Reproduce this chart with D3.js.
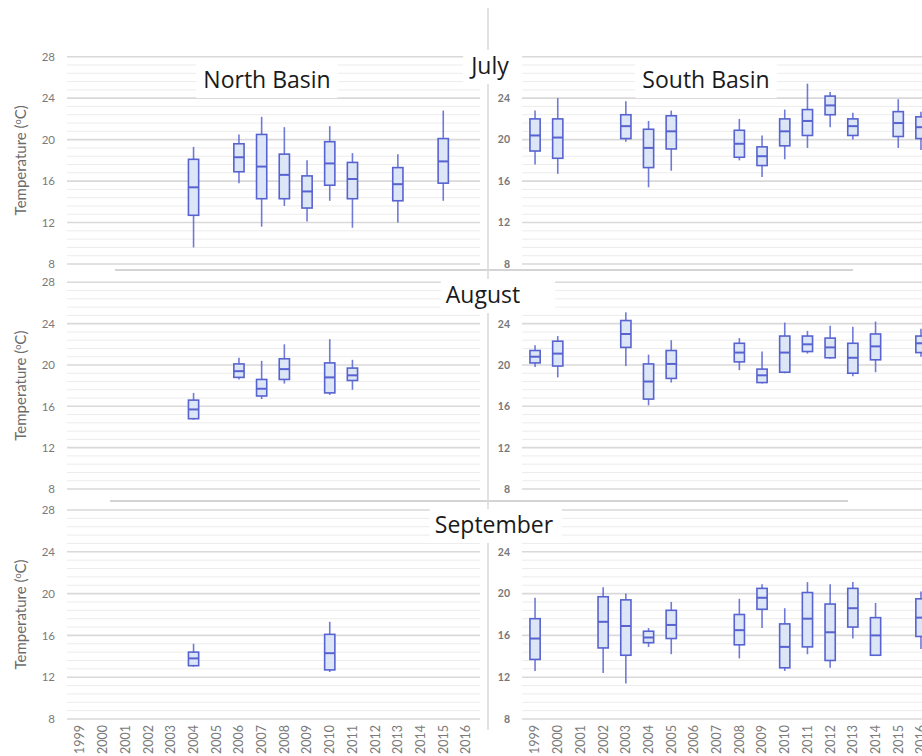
<!DOCTYPE html>
<html>
<head>
<meta charset="utf-8">
<script src="https://cdn.jsdelivr.net/npm/d3@7"></script>
<style>
  body { margin: 0; background: #fff; }
  svg { display: block; }
</style>
</head>
<body>
<div id="chart"></div>
<script>
// categories
const years = ["1999", "2000", "2001", "2002", "2003", "2004", "2005", "2006", "2007",
  "2008", "2009", "2010", "2011", "2012", "2013", "2014", "2015", "2016"];
const months = ["July", "August", "September"];
const basins = ["North Basin", "South Basin"];
const yTicksNorth = [8, 12, 16, 20, 24, 28];
const yTicksSouth = [8, 12, 16, 20, 24];

// box plot values: [year, min, q1, median, q3, max]
const julyNorth = [
  ["2004", 9.6, 12.7, 15.4, 18.1, 19.3],
  ["2006", 15.8, 16.9, 18.3, 19.6, 20.5],
  ["2007", 11.6, 14.3, 17.4, 20.5, 22.2],
  ["2008", 13.6, 14.3, 16.6, 18.6, 21.2],
  ["2009", 12.1, 13.4, 15.0, 16.5, 18.0],
  ["2010", 14.1, 15.6, 17.7, 19.8, 21.3],
  ["2011", 11.5, 14.3, 16.2, 17.8, 18.7],
  ["2013", 12.0, 14.1, 15.7, 17.3, 18.6],
  ["2015", 14.1, 15.8, 17.9, 20.1, 22.8]
];
const julySouth = [
  ["1999", 17.6, 18.9, 20.4, 22.0, 22.8],
  ["2000", 16.7, 18.2, 20.2, 22.0, 24.0],
  ["2003", 19.8, 20.1, 21.3, 22.4, 23.7],
  ["2004", 15.4, 17.3, 19.2, 21.0, 21.8],
  ["2005", 17.0, 19.1, 20.8, 22.3, 22.8],
  ["2008", 18.0, 18.3, 19.6, 20.9, 22.0],
  ["2009", 16.4, 17.5, 18.4, 19.3, 20.4],
  ["2010", 18.1, 19.4, 20.8, 22.0, 22.9],
  ["2011", 19.2, 20.4, 21.8, 22.9, 25.4],
  ["2012", 21.2, 22.4, 23.3, 24.2, 24.6],
  ["2013", 20.0, 20.4, 21.3, 22.0, 22.6],
  ["2015", 19.2, 20.3, 21.6, 22.7, 23.9],
  ["2016", 19.0, 20.1, 21.2, 22.2, 22.7]
];
const augNorth = [
  ["2004", 14.7, 14.8, 15.7, 16.6, 17.3],
  ["2006", 18.6, 18.8, 19.4, 20.1, 20.7],
  ["2007", 16.7, 17.0, 17.7, 18.6, 20.4],
  ["2008", 18.2, 18.6, 19.6, 20.6, 22.0],
  ["2010", 17.1, 17.3, 18.8, 20.2, 22.5],
  ["2011", 17.6, 18.5, 19.0, 19.7, 20.5]
];
const augSouth = [
  ["1999", 19.8, 20.2, 20.8, 21.4, 21.9],
  ["2000", 18.8, 19.9, 21.1, 22.3, 22.8],
  ["2003", 19.9, 21.7, 23.0, 24.3, 25.1],
  ["2004", 16.1, 16.7, 18.4, 20.1, 21.0],
  ["2005", 18.3, 18.7, 20.1, 21.4, 22.4],
  ["2008", 19.5, 20.3, 21.2, 22.1, 22.6],
  ["2009", 18.2, 18.3, 19.0, 19.6, 21.3],
  ["2010", 19.2, 19.3, 21.2, 22.8, 24.1],
  ["2011", 21.1, 21.3, 22.0, 22.8, 23.3],
  ["2012", 20.6, 20.7, 21.7, 22.6, 23.8],
  ["2013", 18.9, 19.2, 20.7, 22.1, 23.7],
  ["2014", 19.3, 20.5, 21.8, 23.0, 24.2],
  ["2016", 20.8, 21.2, 22.1, 22.8, 23.5]
];
const sepNorth = [
  ["2004", 13.0, 13.1, 13.8, 14.4, 15.2],
  ["2010", 12.5, 12.7, 14.3, 16.1, 17.3]
];
const sepSouth = [
  ["1999", 12.6, 13.7, 15.7, 17.6, 19.6],
  ["2002", 12.4, 14.8, 17.3, 19.7, 20.6],
  ["2003", 11.4, 14.1, 16.9, 19.4, 20.0],
  ["2004", 14.9, 15.3, 15.8, 16.4, 16.7],
  ["2005", 14.2, 15.7, 17.0, 18.4, 19.2],
  ["2008", 13.8, 15.1, 16.5, 18.0, 19.5],
  ["2009", 16.7, 18.5, 19.6, 20.5, 20.9],
  ["2010", 12.6, 12.9, 14.9, 17.1, 18.6],
  ["2011", 14.2, 14.9, 17.6, 20.1, 21.1],
  ["2012", 12.9, 13.6, 16.3, 19.0, 20.9],
  ["2013", 15.7, 16.8, 18.6, 20.5, 21.1],
  ["2014", 14.1, 14.1, 16.0, 17.7, 19.1],
  ["2016", 14.7, 15.9, 17.7, 19.5, 20.2]
];

const panelData = [
  [julyNorth, julySouth],
  [augNorth, augSouth],
  [sepNorth, sepSouth]
];

// layout
const width = 922;
const height = 756;
const rowTop = [56.7, 282.3, 510];
const rowBottom = [264, 489, 719];
const cols = [
  { x0: 68.7, x1: 477.3, g0: 67, g1: 480, tickX: 55 },
  { x0: 523.7, x1: 932.3, g0: 522, g1: 922, tickX: 510 }
];

const strokeCol = "#5763d0";
const fillCol = "#dce6f6";
const textGray = "#6b6b6b";

const svg = d3.select("#chart")
  .append("svg")
  .attr("width", width)
  .attr("height", height);

// gridline levels every 0.8 degrees
const gridLevels = d3.range(26).map(i => 8 + i * 0.8);
const isMajor = d => Math.abs(d % 4) < 1e-6 || Math.abs(d % 4 - 4) < 1e-6;

panelData.forEach((row, r) => {
  row.forEach((data, c) => {
    const cfg = cols[c];
    const g = svg.append("g").attr("class", `panel-${r}-${c}`);

    const x = d3.scaleBand()
      .domain(years)
      .range([cfg.x0, cfg.x1]);

    const y = d3.scaleLinear()
      .domain([8, 28])
      .range([rowBottom[r], rowTop[r]]);

    // gridlines
    g.append("g").selectAll("line")
      .data(gridLevels)
      .join("line")
      .attr("x1", cfg.g0)
      .attr("x2", cfg.g1)
      .attr("y1", d => y(d))
      .attr("y2", d => y(d))
      .attr("stroke", d => isMajor(d) ? "#d9d9d9" : "#ececec")
      .attr("stroke-width", d => isMajor(d) ? 1.6 : 1);

    // y axis labels
    const yAxis = g.append("g")
      .attr("transform", `translate(${cfg.tickX},0)`)
      .call(d3.axisLeft(y).tickValues(c === 0 ? yTicksNorth : yTicksSouth).tickSize(0).tickPadding(0));
    yAxis.select(".domain").remove();
    yAxis.selectAll("text")
      .attr("font-family", "Lato, 'Open Sans', sans-serif")
      .attr("font-size", c === 0 ? 11.5 : 10.5)
      .attr("font-weight", c === 0 ? "normal" : "bold")
      .attr("fill", c === 0 ? "#7a7a7a" : "#777");

    // y axis title on left panels
    if (c === 0) {
      const t = g.append("text")
        .attr("transform", `translate(21,${(rowTop[r] + rowBottom[r]) / 2}) rotate(-90)`)
        .attr("text-anchor", "middle")
        .attr("dy", "0.35em")
        .attr("font-family", "Lato, 'Open Sans', sans-serif")
        .attr("font-size", 15)
        .attr("fill", textGray);
      t.append("tspan").text("Temperature (");
      t.append("tspan").text("o").attr("font-size", 9).attr("baseline-shift", "super");
      t.append("tspan").text("C)");
    }

    // x axis labels on bottom row
    if (r === months.length - 1) {
      g.append("g").selectAll("text")
        .data(years)
        .join("text")
        .attr("transform", d => `translate(${x(d) + x.bandwidth() / 2},725) rotate(-90)`)
        .attr("text-anchor", "end")
        .attr("dy", "0.35em")
        .attr("font-family", "Lato, 'Open Sans', sans-serif")
        .attr("font-size", 12.5)
        .attr("fill", "#7a7a7a")
        .text(d => d);
    }

    // boxes
    const bw = x.bandwidth() * 0.45;
    const boxes = g.append("g").selectAll("g")
      .data(data)
      .join("g")
      .attr("transform", d => `translate(${x(d[0]) + x.bandwidth() / 2},0)`);

    boxes.append("line")
      .attr("y1", d => y(d[1]))
      .attr("y2", d => y(d[5]))
      .attr("stroke", strokeCol)
      .attr("stroke-opacity", 0.85)
      .attr("stroke-width", 1.6);

    boxes.append("rect")
      .attr("x", -bw / 2)
      .attr("width", bw)
      .attr("y", d => y(d[4]))
      .attr("height", d => y(d[2]) - y(d[4]))
      .attr("fill", fillCol)
      .attr("stroke", strokeCol)
      .attr("stroke-width", 1.6);

    boxes.append("line")
      .attr("x1", -bw / 2)
      .attr("x2", bw / 2)
      .attr("y1", d => y(d[3]))
      .attr("y2", d => y(d[3]))
      .attr("stroke", strokeCol)
      .attr("stroke-width", 2);
  });
});

// separators left over from the stacked charts
svg.append("line")
  .attr("x1", 115).attr("x2", 853).attr("y1", 270).attr("y2", 270)
  .attr("stroke", "#d4d4d4").attr("stroke-width", 2);
svg.append("line")
  .attr("x1", 110).attr("x2", 848).attr("y1", 501).attr("y2", 501)
  .attr("stroke", "#d4d4d4").attr("stroke-width", 2);
svg.append("line")
  .attr("x1", 488).attr("x2", 488).attr("y1", 8).attr("y2", 730)
  .attr("stroke", "#d9d9d9").attr("stroke-width", 1.5);

// titles with white boxes
function addTitle(label, cx, baseline, padL, padR) {
  const g = svg.append("g");
  const bg = g.append("rect").attr("fill", "#fff");
  const t = g.append("text")
    .attr("x", cx)
    .attr("y", baseline)
    .attr("text-anchor", "middle")
    .attr("font-family", "'Open Sans', 'Noto Sans', sans-serif")
    .attr("font-size", 23)
    .attr("fill", "#1a1a1a")
    .text(label);
  const b = t.node().getBBox();
  bg.attr("x", b.x - padL)
    .attr("y", b.y + 1)
    .attr("width", b.width + padL + padR)
    .attr("height", b.height + 2);
}

addTitle(basins[0], 267, 88, 7, 7);
addTitle(basins[1], 706, 88, 7, 7);
addTitle(months[0], 490, 74, 6, 8);
addTitle(months[1], 483, 303, 5, 35);
addTitle(months[2], 494, 533, 5, 8);
</script>
</body>
</html>
